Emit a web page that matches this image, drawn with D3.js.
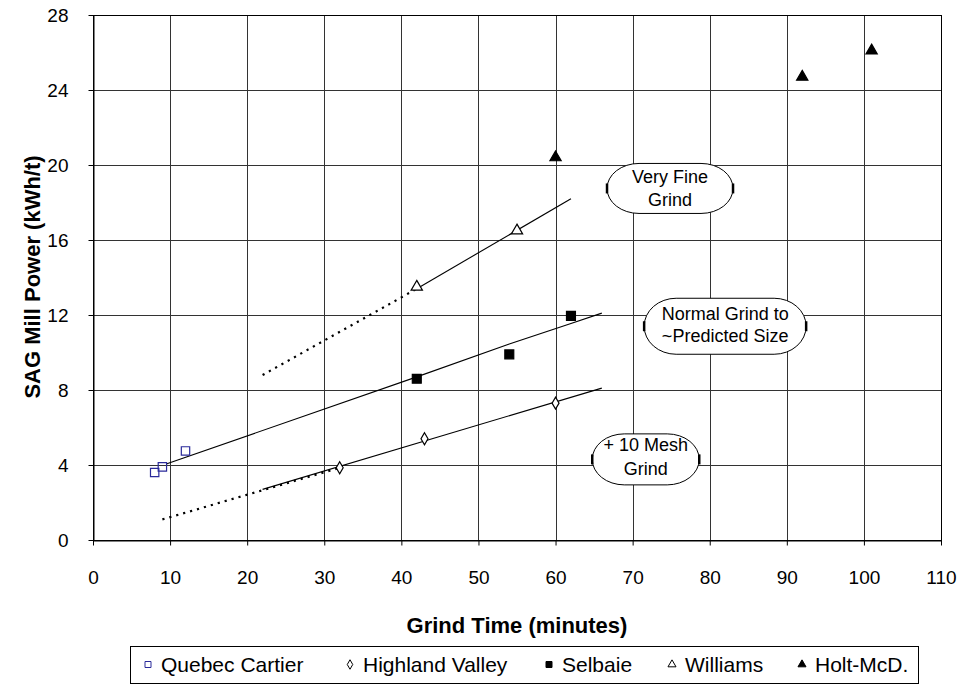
<!DOCTYPE html>
<html>
<head>
<meta charset="utf-8">
<script src="https://cdn.jsdelivr.net/npm/d3@7"></script>
<style>
  body { margin: 0; background: #fff; }
  svg text { font-family: "Liberation Sans", Arial, sans-serif; }
</style>
</head>
<body>
<div id="viz"></div>
<script>
// chart data
const quebecCartier = [[8, 3.6], [9, 3.9], [12, 4.75]];
const highlandValley = [[32, 3.85], [43, 5.4], [60, 7.3]];
const selbaie = [[42, 8.6], [54, 9.9], [62, 11.95]];
const williams = [[42, 13.5], [55, 16.5]];
const holtMcD = [[60, 20.4], [92, 24.7], [101, 26.1]];

// trend lines (solid) and extrapolations (dotted)
const williamsFit = [[42, 13.4], [62, 18.2]];
const williamsExt = [[22, 8.8], [42, 13.4]];
const selbaieFit = [[9.5, 4.05], [42, 8.7], [54, 10.45], [62, 11.55], [66, 12.1]];
const highlandFit = [[22, 2.7], [66, 8.1]];
const highlandExt = [[9, 1.1], [32, 3.85]];

const xTicks = [0, 10, 20, 30, 40, 50, 60, 70, 80, 90, 100, 110];
const yTicks = [0, 4, 8, 12, 16, 20, 24, 28];

const seriesNames = ["Quebec Cartier", "Highland Valley", "Selbaie", "Williams", "Holt-McD."];
const calloutTexts = [["Very Fine", "Grind"], ["Normal Grind to", "~Predicted Size"], ["+ 10 Mesh", "Grind"]];
// callout centres in data units
const calloutAt = [[74.85, 18.75], [82.0, 11.4], [71.7, 4.3]];

const outerWidth = 966, outerHeight = 685;
const plot = {left: 93, top: 15, right: 941, bottom: 540};

const svg = d3.select("#viz").append("svg")
    .attr("width", outerWidth)
    .attr("height", outerHeight);

const x = d3.scaleLinear().domain([0, 110]).range([plot.left, plot.right]);
const y = d3.scaleLinear().domain([0, 28]).range([plot.bottom, plot.top]);

// grid
const grid = svg.append("g").attr("stroke", "#333").attr("stroke-width", 1);
grid.selectAll(".vg").data(xTicks.slice(1, -1)).enter().append("line")
    .attr("x1", d => Math.round(x(d)) + 0.5).attr("x2", d => Math.round(x(d)) + 0.5)
    .attr("y1", plot.top).attr("y2", plot.bottom);
grid.selectAll(".hg").data(yTicks.slice(1, -1)).enter().append("line")
    .attr("y1", d => Math.round(y(d)) + 0.5).attr("y2", d => Math.round(y(d)) + 0.5)
    .attr("x1", plot.left).attr("x2", plot.right);

// frame
svg.append("rect")
    .attr("x", plot.left + 0.5).attr("y", plot.top + 0.5)
    .attr("width", plot.right - plot.left).attr("height", plot.bottom - plot.top)
    .attr("fill", "none").attr("stroke", "#000");

// axes
const xAxis = svg.append("g")
    .attr("transform", "translate(0," + (plot.bottom + 0.5) + ")")
    .call(d3.axisBottom(x).tickValues(xTicks).tickSize(5).tickSizeOuter(0).tickPadding(25));
const yAxis = svg.append("g")
    .attr("transform", "translate(" + (plot.left + 0.5) + ",0)")
    .call(d3.axisLeft(y).tickValues(yTicks).tickSize(5).tickSizeOuter(0).tickPadding(20));
[xAxis, yAxis].forEach(a => {
  a.select(".domain").attr("stroke", "#000");
  a.selectAll(".tick line").attr("stroke", "#000");
  a.selectAll(".tick text").attr("font-size", 19).attr("fill", "#000")
    .style("font-family", '"Liberation Sans", Arial, sans-serif');
});

// axis titles
svg.append("text")
    .attr("x", (plot.left + plot.right) / 2).attr("y", 633)
    .attr("text-anchor", "middle").attr("font-size", 22).attr("font-weight", "bold")
    .text("Grind Time (minutes)");
svg.append("text")
    .attr("transform", "translate(40," + 277 + ") rotate(-90)")
    .attr("text-anchor", "middle").attr("font-size", 22).attr("font-weight", "bold")
    .text("SAG Mill Power (kWh/t)");

// lines
const line = d3.line().x(d => x(d[0])).y(d => y(d[1]));
const lines = svg.append("g").attr("fill", "none").attr("stroke", "#000");
[williamsFit, selbaieFit, highlandFit].forEach(l => {
  lines.append("path").attr("d", line(l)).attr("stroke-width", 1.1);
});
[williamsExt, highlandExt].forEach(l => {
  lines.append("path").attr("d", line(l)).attr("stroke-width", 2.2)
    .attr("stroke-dasharray", "2.2,5");
});

// series styling
const series = [
  {data: quebecCartier, type: d3.symbolSquare, size: 70, fill: "none", stroke: "#2a2a9a", lsize: 36},
  {data: highlandValley, type: d3.symbolDiamond, size: 42, fill: "#fff", stroke: "#000", lsize: 26},
  {data: selbaie, type: d3.symbolSquare, size: 80, fill: "#000", stroke: "#000", lsize: 36},
  {data: williams, type: d3.symbolTriangle, size: 55, fill: "#fff", stroke: "#000", lsize: 28},
  {data: holtMcD, type: d3.symbolTriangle, size: 55, fill: "#000", stroke: "#000", lsize: 28}
];

series.forEach(s => {
  svg.append("g").selectAll("path").data(s.data).enter().append("path")
    .attr("transform", d => "translate(" + x(d[0]) + "," + y(d[1]) + ")")
    .attr("d", d3.symbol().type(s.type).size(s.size))
    .attr("fill", s.fill).attr("stroke", s.stroke).attr("stroke-width", 1.2);
});

// callouts
function calloutPath(w, h) {
  const r = h / 2, rx = Math.min(32, w / 3);
  return "M" + (-w / 2 + rx) + "," + (-r) +
    " H" + (w / 2 - rx) +
    " A" + rx + "," + r + " 0 0 1 " + (w / 2 - rx) + "," + r +
    " H" + (-w / 2 + rx) +
    " A" + rx + "," + r + " 0 0 1 " + (-w / 2 + rx) + "," + (-r) + " Z";
}
const calloutSize = [[126, 50], [162, 56], [107, 51]];
const calloutLines = [[-5, 18], [-6.5, 15.5], [-8.5, 15.5]];
calloutTexts.forEach((t, i) => {
  const w = calloutSize[i][0], h = calloutSize[i][1];
  const g = svg.append("g")
      .attr("transform", "translate(" + x(calloutAt[i][0]) + "," + y(calloutAt[i][1]) + ")");
  g.append("path").attr("d", calloutPath(w, h))
    .attr("fill", "#fff").attr("stroke", "#000").attr("stroke-width", 1);
  [-w / 2, w / 2].forEach(px => {
    g.append("line").attr("x1", px).attr("x2", px).attr("y1", -5).attr("y2", 5)
      .attr("stroke", "#000").attr("stroke-width", 2.5);
  });
  g.selectAll("text").data(t).enter().append("text")
    .attr("x", 0).attr("y", (d, j) => calloutLines[i][j])
    .attr("text-anchor", "middle").attr("font-size", 18).attr("fill", "#000")
    .text(d => d);
});

// legend
const legend = {left: 130, top: 646, right: 918, bottom: 683};
svg.append("rect")
    .attr("x", legend.left + 0.5).attr("y", legend.top + 0.5)
    .attr("width", legend.right - legend.left).attr("height", legend.bottom - legend.top)
    .attr("fill", "#fff").attr("stroke", "#000");
const legendX = [148, 350, 549, 672, 802];
const li = svg.append("g").selectAll("g").data(series).enter().append("g")
    .attr("transform", (d, i) => "translate(" + legendX[i] + "," + (legend.top + legend.bottom) / 2 + ")");
li.append("path")
    .attr("d", d => d3.symbol().type(d.type).size(d.lsize)())
    .attr("fill", d => d.fill).attr("stroke", d => d.stroke);
li.append("text")
    .attr("x", 13).attr("y", 7.5)
    .attr("font-size", 21).attr("fill", "#000")
    .text((d, i) => seriesNames[i]);
</script>
</body>
</html>
